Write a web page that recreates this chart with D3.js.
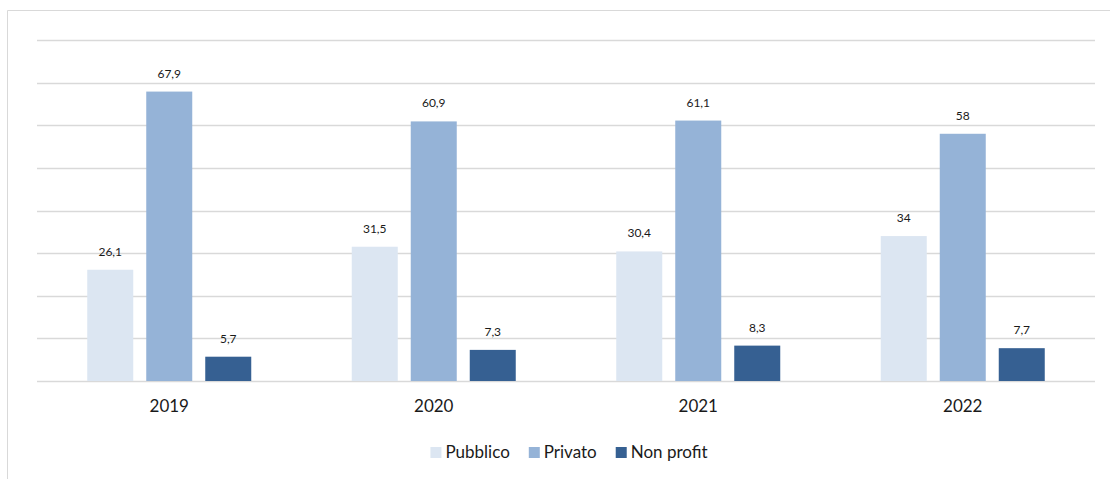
<!DOCTYPE html>
<html>
<head>
<meta charset="utf-8">
<script src="https://cdn.jsdelivr.net/npm/d3@7"></script>
<style>
  html, body { margin: 0; padding: 0; background: #fff; }
  svg { display: block; font-family: Lato, "Liberation Sans", Arial, sans-serif; }
</style>
</head>
<body>
<svg id="chart" width="1110" height="479"></svg>
<script>
// Anni e serie
const years = ["2019", "2020", "2021", "2022"];
const seriesNames = ["Pubblico", "Privato", "Non profit"];
const pubblico = [26.1, 31.5, 30.4, 34];
const privato = [67.9, 60.9, 61.1, 58];
const nonProfit = [5.7, 7.3, 8.3, 7.7];
const yTicks = [0, 10, 20, 30, 40, 50, 60, 70, 80];
const colors = ["#dce6f2", "#95b3d7", "#366092"];

const valuesBySeries = [pubblico, privato, nonProfit];
const rows = years.map((yr, i) => ({
  year: yr,
  values: seriesNames.map((s, k) => ({ series: s, value: valuesBySeries[k][i], k }))
}));

const svg = d3.select("#chart");

// chart frame
svg.append("path")
  .attr("d", "M7.5,490 V10.5 H1120")
  .attr("fill", "none")
  .attr("stroke", "#d9d9d9")
  .attr("stroke-width", 1);

const plotLeft = 37, plotRight = 1095, plotTop = 40, plotBottom = 381;

const x0 = d3.scaleBand().domain(years).range([plotLeft, plotRight]).padding(0);
const x1 = d3.scaleBand().domain(seriesNames).range([-82, 82]).paddingInner(13 / 59).paddingOuter(0);
const y = d3.scaleLinear().domain([0, 80]).range([plotBottom, plotTop]);

// gridlines
svg.append("g")
  .selectAll("line")
  .data(yTicks)
  .join("line")
  .attr("x1", plotLeft)
  .attr("x2", plotRight)
  .attr("y1", d => Math.round(y(d)) + 0.5)
  .attr("y2", d => Math.round(y(d)) + 0.5)
  .attr("stroke", "#d9d9d9")
  .attr("stroke-width", 1.5);

// bars
const groups = svg.append("g")
  .selectAll("g")
  .data(rows)
  .join("g")
  .attr("transform", d => `translate(${x0(d.year) + x0.bandwidth() / 2},0)`);

groups.selectAll("rect")
  .data(d => d.values)
  .join("rect")
  .attr("x", d => x1(d.series))
  .attr("width", x1.bandwidth())
  .attr("y", d => y(d.value))
  .attr("height", d => y(0) - y(d.value))
  .attr("fill", d => colors[d.k]);

// value labels
const fmt = v => String(v).replace(".", ",");
groups.selectAll("text")
  .data(d => d.values)
  .join("text")
  .attr("x", d => x1(d.series) + x1.bandwidth() / 2)
  .attr("y", d => y(d.value) - 14)
  .attr("text-anchor", "middle")
  .attr("font-size", 12)
  .attr("fill", "#1a1a1a")
  .text(d => fmt(d.value));

// category axis labels
svg.append("g")
  .selectAll("text")
  .data(years)
  .join("text")
  .attr("x", d => x0(d) + x0.bandwidth() / 2)
  .attr("y", 412)
  .attr("text-anchor", "middle")
  .attr("font-size", 17)
  .attr("fill", "#1a1a1a")
  .text(d => d);

// legend
const legend = svg.append("g");
const items = legend.selectAll("g")
  .data(seriesNames)
  .join("g");
items.append("rect")
  .attr("width", 11)
  .attr("height", 11)
  .attr("y", 447)
  .attr("fill", (d, i) => colors[i]);
items.append("text")
  .attr("x", 15)
  .attr("y", 458)
  .attr("font-size", 17)
  .attr("fill", "#1a1a1a")
  .text(d => d);

let cx = 0;
const offsets = [];
items.each(function () {
  offsets.push(cx);
  const w = this.querySelector("text").getComputedTextLength();
  cx += 15 + w + 19;
});
const total = cx - 19;
const startX = 569 - total / 2;
items.attr("transform", (d, i) => `translate(${startX + offsets[i]},0)`);
</script>
</body>
</html>
